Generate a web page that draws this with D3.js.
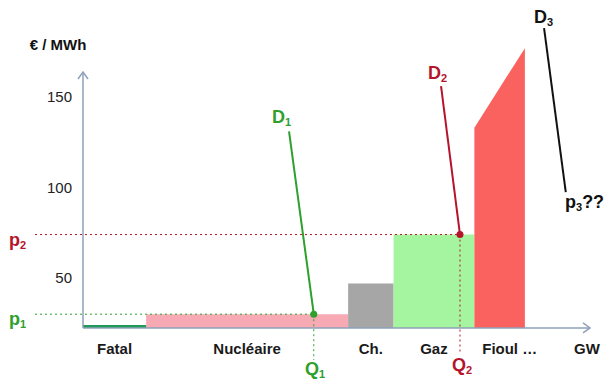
<!DOCTYPE html>
<html>
<head>
<meta charset="utf-8">
<script src="https://d3js.org/d3.v7.min.js"></script>
<style>
  body { margin: 0; background: #fff; }
  svg { font-family: "Liberation Sans", Arial, sans-serif; }
</style>
</head>
<body>
<svg id="chart" width="607" height="384"></svg>
<script>
// merit order blocks (GW on x, €/MWh on y)
const sources = ["Fatal", "Nucléaire", "Ch.", "Gaz", "Fioul …"];
const capStart = [0, 12.5, 52.5, 61.5, 77.5];
const capEnd = [12.5, 52.5, 61.5, 77.5, 87.5];
const costLeft = [22.4, 30, 47, 74, 133];
const costRight = [22.4, 30, 47, 74, 177];
const labelAt = [6.25, 32.5, 57, 69.5, 84.5];
const yTicks = [50, 100, 150];
const yBase = 22.4;

// demand curves
const demand1 = [[40.8, 131], [45.7, 30]];
const demand2 = [[70.9, 156], [74.65, 74]];
const demand3 = [[91.3, 188], [95.6, 97.5]];
const q1 = 45.7, p1 = 30;
const q2 = 74.65, p2 = 74;

const svg = d3.select("#chart");

const x = d3.scaleLinear().domain([0, 100]).range([83, 588]);
const y = d3.scaleLinear().domain([50, 150]).range([278, 97]);

const fills = ["#1f9a5a", "#f7aab3", "#a6a6a6", "#a5f5a0", "#f9625f"];
const axisColor = "#8ea0ba";
const green = "#2ea02c";
const red = "#b5142a";

// blocks
sources.forEach((s, i) => {
  if (i === 0) return;
  const pts = [
    [x(capStart[i]), y(yBase)],
    [x(capStart[i]), y(costLeft[i])],
    [x(capEnd[i]), y(costRight[i])],
    [x(capEnd[i]), y(yBase)]
  ];
  svg.append("path")
    .attr("d", d3.line()(pts) + "Z")
    .attr("fill", fills[i]);
});

// fatal: flat line at the bottom
svg.append("line")
  .attr("x1", x(capStart[0])).attr("x2", x(capEnd[0]))
  .attr("y1", y(yBase) - 1.5).attr("y2", y(yBase) - 1.5)
  .attr("stroke", fills[0]).attr("stroke-width", 3);

// dotted guides
svg.append("line")
  .attr("x1", 35).attr("x2", x(q1))
  .attr("y1", y(p1)).attr("y2", y(p1))
  .attr("stroke", green).attr("stroke-width", 1).attr("stroke-dasharray", "2,3");
svg.append("line")
  .attr("x1", x(q1)).attr("x2", x(q1))
  .attr("y1", y(p1)).attr("y2", 360)
  .attr("stroke", green).attr("stroke-width", 1).attr("stroke-dasharray", "2,3");
svg.append("line")
  .attr("x1", 35).attr("x2", x(q2))
  .attr("y1", y(p2)).attr("y2", y(p2))
  .attr("stroke", red).attr("stroke-width", 1).attr("stroke-dasharray", "2,3");
svg.append("line")
  .attr("x1", x(q2)).attr("x2", x(q2))
  .attr("y1", y(p2)).attr("y2", 354)
  .attr("stroke", red).attr("stroke-width", 1).attr("stroke-dasharray", "2,3");

// axes
svg.append("line")
  .attr("x1", x(0)).attr("x2", x(0))
  .attr("y1", y(yBase)).attr("y2", 72)
  .attr("stroke", axisColor).attr("stroke-width", 1.5);
svg.append("path")
  .attr("d", `M${x(0) - 5},${79} L${x(0)},${72} L${x(0) + 5},${79}`)
  .attr("fill", "none").attr("stroke", axisColor).attr("stroke-width", 1.5);
svg.append("line")
  .attr("x1", x(0)).attr("x2", 590)
  .attr("y1", y(yBase)).attr("y2", y(yBase))
  .attr("stroke", axisColor).attr("stroke-width", 1.5);
svg.append("path")
  .attr("d", `M${583},${y(yBase) - 5} L${590},${y(yBase)} L${583},${y(yBase) + 5}`)
  .attr("fill", "none").attr("stroke", axisColor).attr("stroke-width", 1.5);

svg.append("g")
  .attr("transform", `translate(${x(0)},0)`)
  .call(d3.axisLeft(y).tickValues(yTicks).tickSize(0).tickPadding(11))
  .call(g => g.select(".domain").remove())
  .call(g => g.selectAll("text")
    .attr("font-size", 15)
    .attr("font-family", "Liberation Sans, Arial, sans-serif")
    .attr("fill", "#222"));

svg.append("text")
  .attr("x", 58).attr("y", 50)
  .attr("text-anchor", "middle")
  .attr("font-size", 15).attr("font-weight", "bold").attr("fill", "#111")
  .text("€ / MWh");

// category labels
sources.forEach((s, i) => {
  svg.append("text")
    .attr("x", x(labelAt[i])).attr("y", 354)
    .attr("text-anchor", "middle")
    .attr("font-size", 15).attr("font-weight", "bold").attr("fill", "#1a1a1a")
    .text(s);
});
svg.append("text")
  .attr("x", 587).attr("y", 354)
  .attr("text-anchor", "middle")
  .attr("font-size", 15).attr("font-weight", "bold").attr("fill", "#1a1a1a")
  .text("GW");

// demand curves
const line = d3.line().x(d => x(d[0])).y(d => y(d[1]));
svg.append("path").attr("d", line(demand1)).attr("stroke", green).attr("stroke-width", 2).attr("fill", "none");
svg.append("path").attr("d", line(demand2)).attr("stroke", red).attr("stroke-width", 2).attr("fill", "none");
svg.append("path").attr("d", line(demand3)).attr("stroke", "#111").attr("stroke-width", 2).attr("fill", "none");

svg.append("circle").attr("cx", x(q1)).attr("cy", y(p1)).attr("r", 3.5).attr("fill", green);
svg.append("circle").attr("cx", x(q2)).attr("cy", y(p2)).attr("r", 3.5).attr("fill", red);

// labels with subscripts
function sublabel(tx, ty, main, sub, color, extra) {
  const t = svg.append("text")
    .attr("x", tx).attr("y", ty)
    .attr("font-size", 18).attr("font-weight", "bold").attr("fill", color);
  t.append("tspan").text(main);
  t.append("tspan").attr("font-size", 11).attr("dy", 3).text(sub);
  if (extra) t.append("tspan").attr("dy", -3).text(extra);
}
sublabel(272, 123, "D", "1", green);
sublabel(428, 79, "D", "2", red);
sublabel(534, 23, "D", "3", "#111");
sublabel(565, 208, "p", "3", "#111", "??");
sublabel(9, 246, "p", "2", red);
sublabel(9, 325, "p", "1", green);
sublabel(305, 375, "Q", "1", green);
sublabel(452, 371, "Q", "2", red);
</script>
</body>
</html>
